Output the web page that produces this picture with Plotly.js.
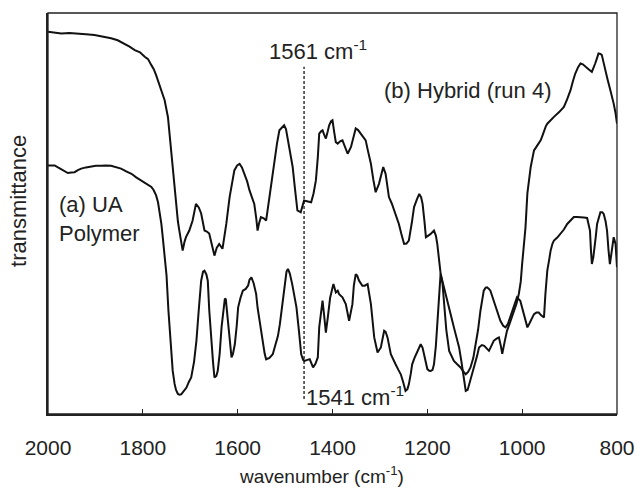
<!DOCTYPE html>
<html>
<head>
<meta charset="utf-8">
<script src="https://cdn.plot.ly/plotly-3.0.1.min.js"></script>
<style>html,body{margin:0;padding:0;background:#fff;}#chart{width:637px;height:488px;}</style>
</head>
<body>
<div id="chart"></div>
<script>
// ---- Data ----
const hybridWn = [2000,1985,1972,1955,1937,1920,1902,1885,1867,1853,1839,1828,1817,1806,1796,1789,1782,1777,1772,1766,1761,1754,1747,1742,1737,1733,1730,1726,1723,1719,1716,1712,1709,1702,1695,1688,1682,1677,1670,1665,1660,1654,1649,1644,1639,1632,1628,1624,1617,1612,1607,1601,1596,1591,1586,1580,1575,1570,1565,1561,1558,1555,1551,1545,1540,1533,1528,1523,1517,1512,1507,1502,1498,1495,1490,1484,1479,1474,1467,1460,1452,1445,1440,1435,1431,1428,1424,1421,1417,1414,1410,1407,1403,1400,1396,1393,1389,1384,1379,1374,1368,1361,1356,1351,1346,1340,1335,1330,1325,1319,1314,1309,1302,1297,1293,1288,1284,1281,1275,1270,1265,1260,1255,1249,1244,1239,1233,1228,1222,1217,1213,1210,1206,1203,1198,1193,1186,1182,1179,1175,1172,1165,1160,1154,1149,1144,1138,1133,1128,1123,1119,1115,1110,1105,1100,1095,1091,1085,1080,1075,1070,1065,1060,1054,1049,1045,1042,1037,1032,1025,1018,1012,1007,1003,1000,996,993,989,985,982,978,975,968,961,957,954,950,947,940,933,922,912,905,898,893,888,882,877,872,867,860,853,849,846,842,839,835,832,828,825,820,814,810,807,803,800];
const hybridT = [95.3,95.0,94.9,95.0,94.75,94.7,94.5,94.2,93.7,93.2,92.4,91.6,90.75,90.2,89.1,88.5,87,86,84.5,82.5,80.75,78.25,74,67.4,61.6,56,51.6,48,45.75,42.5,40.75,43,44.1,45.75,48.25,52.4,51.5,50,45.75,45.5,45,42,39.5,41.5,42.4,41.2,44,47.4,54.1,57.5,60.75,62,62.4,61.5,59.9,58,55.75,54,52.4,49,45.75,47.5,49.1,48.8,48.25,54.1,58.5,63.25,67.5,70.75,71.5,72,71,69.1,66,61.6,56,50.75,50.3,53.25,53,52.8,55,58.25,64,69.9,70.5,70.75,69.5,68.7,70.5,72,73,73.25,70,67.8,67.4,68,68.25,66.5,64.9,66.6,69,71.2,70.8,69.9,69.2,68.25,65.5,62.4,58.5,55.3,57.4,60,61.6,59.9,57,54.1,52.5,50.75,49,47.4,45,42.4,42.5,43.25,47.5,51.6,53.5,54.9,54,52.4,48,44.1,44.5,44.9,45.75,44.5,42.4,38.5,35,31.6,29,26.6,24,21.6,19,16.6,13,9.1,5.75,6,8,10,12,14.5,16.6,17.2,17,16.5,15.75,17,18.25,18.8,19.1,17,15,18,20.75,23,25.5,27.5,30,33,37.5,43,46.5,55,59,61.6,64,65.75,67,68.25,69.5,70.75,71.8,72.4,73.3,74.1,75.3,76.6,78.5,80.75,83,84.9,86.5,87.4,87.2,86.6,86,85.3,86.3,87.4,88.8,89.9,89.8,89.5,87.5,85.75,83.5,80.75,79,77.4,75,72.4];

const polymerWn = [2000,1993,1986,1979,1972,1965,1958,1951,1944,1937,1930,1920,1909,1899,1888,1878,1867,1856,1846,1835,1824,1814,1803,1793,1782,1777,1772,1768,1765,1761,1758,1754,1750,1746,1743,1740,1737,1733,1730,1726,1723,1719,1715,1708,1703,1698,1692,1687,1682,1677,1673,1670,1666,1663,1660,1656,1652,1649,1645,1642,1638,1634,1630,1627,1625,1622,1620,1616,1613,1610,1606,1602,1599,1594,1589,1583,1578,1575,1571,1566,1561,1558,1554,1551,1547,1543,1540,1533,1526,1519,1515,1511,1506,1501,1497,1494,1490,1485,1481,1476,1471,1466,1462,1459,1453,1448,1444,1441,1436,1431,1428,1424,1421,1418,1414,1410,1405,1400,1398,1393,1389,1386,1379,1372,1365,1358,1355,1351,1348,1344,1337,1332,1326,1319,1315,1312,1305,1298,1294,1291,1288,1284,1277,1272,1267,1261,1256,1251,1246,1242,1239,1235,1232,1227,1221,1217,1214,1210,1207,1203,1200,1196,1193,1189,1186,1182,1179,1175,1172,1168,1165,1160,1154,1149,1144,1137,1130,1125,1119,1114,1109,1103,1098,1093,1088,1081,1077,1074,1070,1067,1060,1053,1046,1040,1035,1030,1025,1018,1011,1004,1000,996,992,989,985,982,975,970,965,960,954,951,947,943,940,936,933,926,919,912,905,898,891,884,877,870,863,860,857,855,853,850,848,845,842,838,835,831,828,824,821,818,815,813,811,807,803,800];
const polymerT = [62,62,62,61.5,61,60.5,60.1,60.2,60.3,60.8,61.2,61.5,61.75,61.9,61.9,62,61.9,61.6,61.2,60.5,59.9,59,58.25,57.5,56.6,55.8,54.5,52.8,50.75,47.5,44.1,39,34.5,25.75,20.75,15,10.75,7.5,6,5,4.8,4.9,5.5,6.6,8,9.1,13,18.25,26,33.25,35.5,35.75,34.8,33.25,26,18.25,13,9.1,9.5,10.75,15,21.6,26,28.8,28.6,25,21.6,17,14.1,15,17.4,22,26.6,29,30.75,31.2,32,33.5,34.1,32.5,29.9,26.5,23.25,20.5,17.4,15,13.65,14,14.9,17.5,19.5,22.4,27,32.4,35.5,36.2,35,32.4,29.5,26.6,21,14.9,13.5,13.25,13.5,13.65,12.5,11.6,12.5,14.1,21.6,26,28.25,25,20.3,24,29,31.5,32.4,30.3,30.75,29.9,29.1,27.4,23.25,27.4,32,34.9,34.5,33.25,32,32,32.4,27.4,23,19.1,15.35,16.6,19,20.75,20.5,19.1,14.9,13.5,12.4,11,9.9,8,5.75,6.2,7.4,10,12.4,14,15.75,16.8,17.4,16.5,14.9,13,11.2,10.8,10.75,11,12.4,17,23.25,30,35,32.5,27.4,21,15.75,14.5,13.25,12.4,11.6,10.75,9.9,10.5,11.6,14,17.4,21,25.75,30.75,31.5,31.6,31.2,30.75,28.25,25.75,23.25,22,21.6,22.5,24.1,26.6,29.1,28.25,26.5,25,23,21.6,22.5,23.25,24.9,25.3,25.3,24.6,24.1,29.9,35.75,38.5,40.75,42.5,43.25,44,44.9,46,47.4,48.3,49.1,49.1,49.1,49,48.9,47.5,45.75,41,37.4,39,40.75,44,47.4,49.5,50.3,50.3,49.9,48,45.75,41,37.4,39,40.75,44.1,42.4,36.6];

const tickVals = [2000,1800,1600,1400,1200,1000,800];
const tickText = ['2000','1800','1600','1400','1200','1000','800'];
const markerWn = [1460, 1460];     // dashed marker line
const markerT  = [3.75, 86.6];
const xLabel = 'wavenumber (cm<sup>-1</sup>)';
const yLabel = 'transmittance';
const curveLabels = ['(a) UA<br>Polymer', '(b) Hybrid (run 4)'];
const peakLabels = ['1561 cm<sup>-1</sup>', '1541 cm<sup>-1</sup>'];

const FONT = 'Liberation Sans, Arial, Helvetica, sans-serif';
const line = {color:'#111', width:2, shape:'linear'};

const traces = [
  {x: hybridWn, y: hybridT, mode:'lines', line: line, hoverinfo:'skip'},
  {x: polymerWn, y: polymerT, mode:'lines', line: line, hoverinfo:'skip'},
  {x: markerWn, y: markerT, mode:'lines', line:{color:'#000', width:1.2, dash:'3px,2px'}, hoverinfo:'skip'}
];

const layout = {
  width: 637, height: 488,
  margin: {l:48, r:20, t:13, b:74, pad:0},
  paper_bgcolor:'#fff', plot_bgcolor:'#fff',
  showlegend:false,
  font:{family:FONT, size:21, color:'#222'},
  xaxis:{
    range:[2000, 800], autorange:false,
    tickvals: tickVals, ticktext: tickText,
    ticks:'inside', ticklen:5, tickwidth:1, tickcolor:'#222',
    ticklabelstandoff: 14,
    showline:true, linecolor:'#222', linewidth:2, mirror:false,
    showgrid:false, zeroline:false,
    tickfont:{family:FONT, size:21, color:'#222'}
  },
  yaxis:{
    range:[0, 100], autorange:false,
    showticklabels:false, ticks:'',
    showline:true, linecolor:'#222', linewidth:2, mirror:false,
    showgrid:false, zeroline:false
  },
  shapes:[
    {type:'rect', xref:'paper', yref:'paper', x0:0, x1:1, y0:0, y1:1, line:{color:'#222', width:1.3}, fillcolor:'rgba(0,0,0,0)'}
  ],
  annotations:[
    {text: curveLabels[0], x:1982, y:48.7, xref:'x', yref:'y', xanchor:'left', yanchor:'middle', align:'left', showarrow:false, font:{size:22}},
    {text: curveLabels[1], x:1115, y:80.75, xref:'x', yref:'y', xanchor:'center', yanchor:'middle', showarrow:false, font:{size:22}},
    {text: peakLabels[0], x:1431, y:90.75, xref:'x', yref:'y', xanchor:'center', yanchor:'middle', showarrow:false, font:{size:22}},
    {text: peakLabels[1], x:1352, y:4.6, xref:'x', yref:'y', xanchor:'center', yanchor:'middle', showarrow:false, font:{size:22}},
    {text: xLabel, x:0.48, y:-0.152, xref:'paper', yref:'paper', xanchor:'center', yanchor:'middle', showarrow:false, font:{size:19}},
    {text: yLabel, x:-0.053, y:0.531, xref:'paper', yref:'paper', xanchor:'center', yanchor:'middle', textangle:-90, showarrow:false, font:{size:22}}
  ]
};

Plotly.newPlot('chart', traces, layout, {staticPlot:true, displayModeBar:false});
</script>
</body>
</html>
